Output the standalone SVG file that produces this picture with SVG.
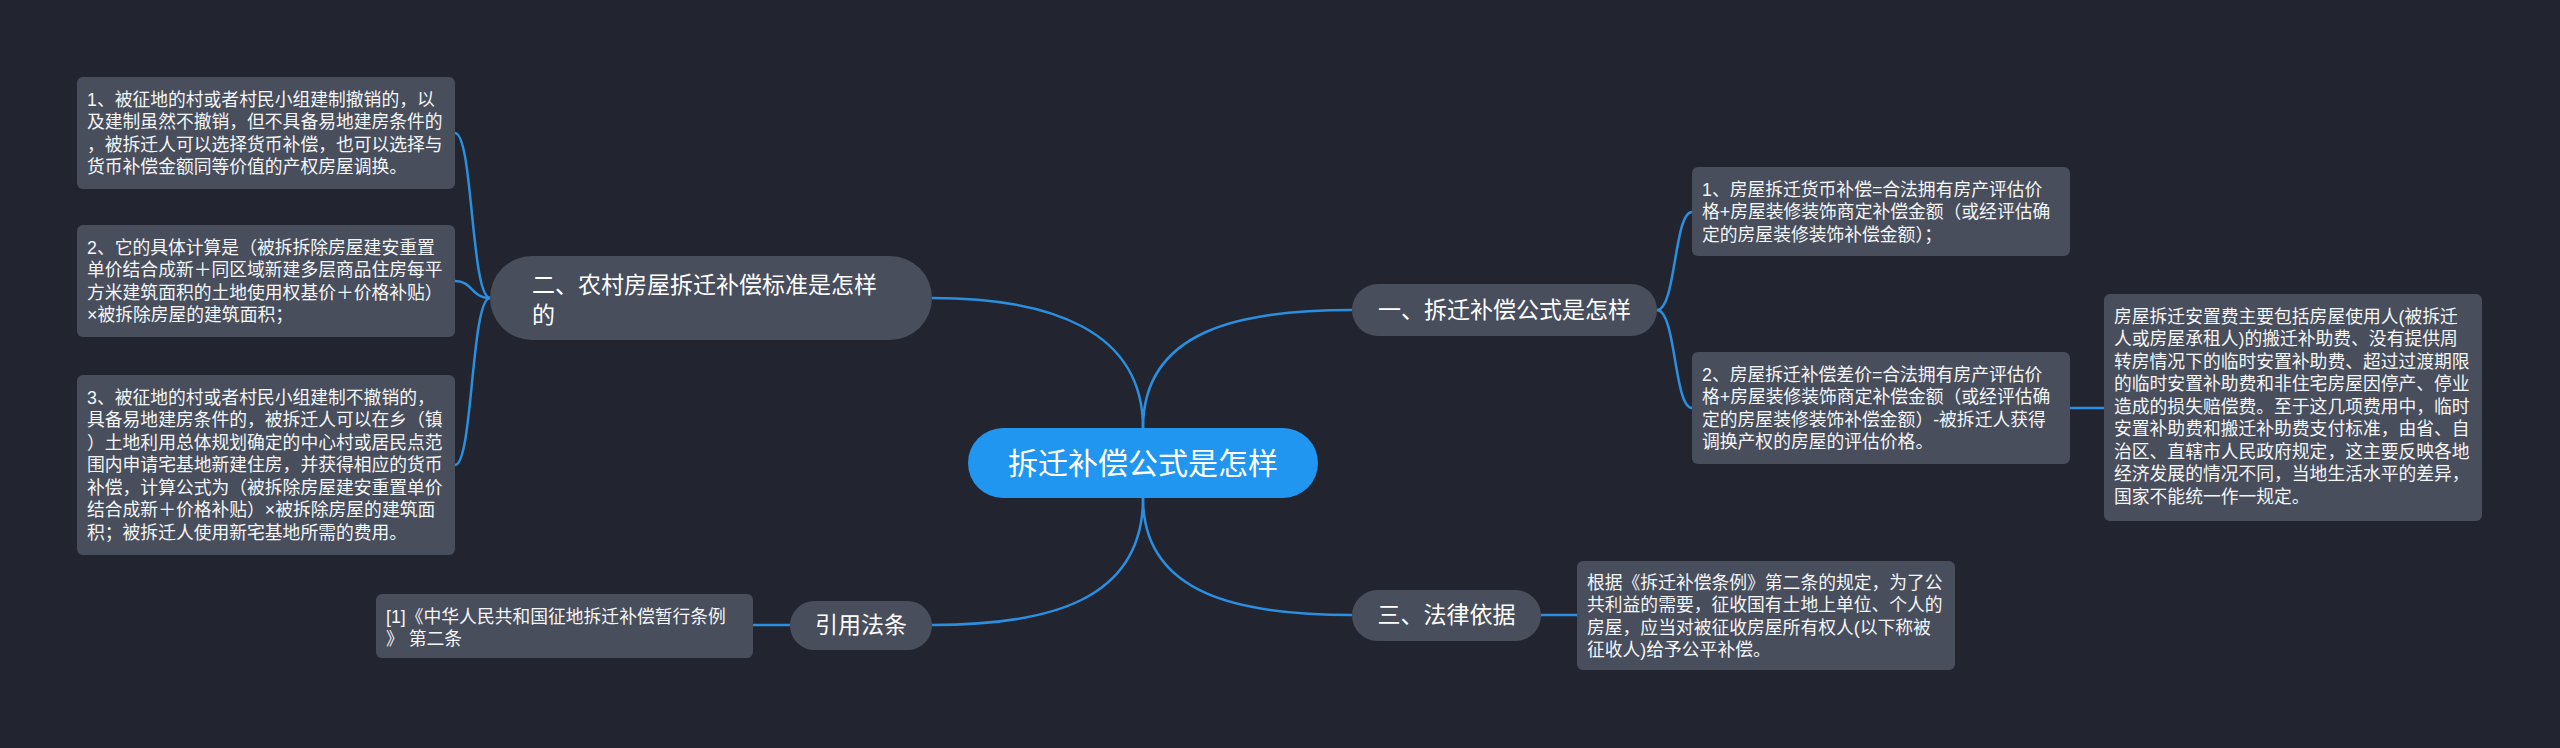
<svg xmlns="http://www.w3.org/2000/svg" width="2560" height="748" viewBox="0 0 2560 748">
<style>
.bg{fill:#22252f}
.leaf{fill:#484e5c}
.node{fill:#484e5c}
.center{fill:#2196f0}
.ln{fill:none;stroke:#2a8fe0;stroke-width:2.5}
.lt{font-family:"Liberation Sans","Noto Sans CJK SC",sans-serif;font-size:17.8px;fill:#f4f5f7}
.nt{font-family:"Liberation Sans","Noto Sans CJK SC",sans-serif;font-size:23px;fill:#ffffff}
.ct{font-family:"Liberation Sans","Noto Sans CJK SC",sans-serif;font-size:30px;fill:#ffffff}
</style>
<rect class="bg" x="0" y="0" width="2560" height="748"/>
<g id="connectors">
<path class="ln" d="M1143,428 C1143,330 1050,298 932,298"/>
<path class="ln" d="M1143,428 C1143,330 1240,310 1352,310"/>
<path class="ln" d="M1143,498 C1143,595 1240,615 1352,615"/>
<path class="ln" d="M1143,498 C1143,600 1050,625 932,625"/>
<path class="ln" d="M490,298 C471,298 473,133 455,133"/>
<path class="ln" d="M490,298 C471,298 473,281 455,281"/>
<path class="ln" d="M490,298 C471,298 473,465 455,465"/>
<path class="ln" d="M790,625 L753,625"/>
<path class="ln" d="M1657,310 C1676,310 1674,212 1692,212"/>
<path class="ln" d="M1657,310 C1676,310 1674,408 1692,408"/>
<path class="ln" d="M2070,408 L2104,408"/>
<path class="ln" d="M1541,615 L1577,615"/>
</g>
<g id="center">
<rect class="center" x="968" y="428" width="350" height="70" rx="35"/>
<text class="ct" x="1143" y="473.5" text-anchor="middle">拆迁补偿公式是怎样</text>
</g>
<g id="n2">
<rect class="node" x="490" y="256" width="442" height="84" rx="42"/>
<text class="nt" x="532" y="293">二、农村房屋拆迁补偿标准是怎样</text>
<text class="nt" x="532" y="323">的</text>
</g>
<g id="n1">
<rect class="node" x="1352" y="284" width="305" height="52" rx="26"/>
<text class="nt" x="1504.5" y="318" text-anchor="middle">一、拆迁补偿公式是怎样</text>
</g>
<g id="n3">
<rect class="node" x="1352" y="590" width="189" height="51" rx="25.5"/>
<text class="nt" x="1446.5" y="623" text-anchor="middle">三、法律依据</text>
</g>
<g id="n4">
<rect class="node" x="790" y="601" width="142" height="49" rx="24.5"/>
<text class="nt" x="861" y="633" text-anchor="middle">引用法条</text>
</g>
<g id="l1">
<rect class="leaf" x="77" y="77" width="378" height="112" rx="6"/>
<text class="lt" x="87" y="105.75">1、被征地的村或者村民小组建制撤销的，以</text>
<text class="lt" x="87" y="128.25">及建制虽然不撤销，但不具备易地建房条件的</text>
<text class="lt" x="87" y="150.75">，被拆迁人可以选择货币补偿，也可以选择与</text>
<text class="lt" x="87" y="173.25">货币补偿金额同等价值的产权房屋调换。</text>
</g>
<g id="l2">
<rect class="leaf" x="77" y="225" width="378" height="112" rx="6"/>
<text class="lt" x="87" y="253.75">2、它的具体计算是（被拆拆除房屋建安重置</text>
<text class="lt" x="87" y="276.25">单价结合成新＋同区域新建多层商品住房每平</text>
<text class="lt" x="87" y="298.75">方米建筑面积的土地使用权基价＋价格补贴）</text>
<text class="lt" x="87" y="321.25">×被拆除房屋的建筑面积；</text>
</g>
<g id="l3">
<rect class="leaf" x="77" y="375" width="378" height="180" rx="6"/>
<text class="lt" x="87" y="403.75">3、被征地的村或者村民小组建制不撤销的，</text>
<text class="lt" x="87" y="426.25">具备易地建房条件的，被拆迁人可以在乡（镇</text>
<text class="lt" x="87" y="448.75">）土地利用总体规划确定的中心村或居民点范</text>
<text class="lt" x="87" y="471.25">围内申请宅基地新建住房，并获得相应的货币</text>
<text class="lt" x="87" y="493.75">补偿，计算公式为（被拆除房屋建安重置单价</text>
<text class="lt" x="87" y="516.25">结合成新＋价格补贴）×被拆除房屋的建筑面</text>
<text class="lt" x="87" y="538.75">积；被拆迁人使用新宅基地所需的费用。</text>
</g>
<g id="l4">
<rect class="leaf" x="376" y="594" width="377" height="64" rx="6"/>
<text class="lt" x="386" y="622.5">[1]《中华人民共和国征地拆迁补偿暂行条例</text>
<text class="lt" x="386" y="645">》 第二条</text>
</g>
<g id="r1">
<rect class="leaf" x="1692" y="167" width="378" height="89" rx="6"/>
<text class="lt" x="1702" y="195.75">1、房屋拆迁货币补偿=合法拥有房产评估价</text>
<text class="lt" x="1702" y="218.25">格+房屋装修装饰商定补偿金额（或经评估确</text>
<text class="lt" x="1702" y="240.75">定的房屋装修装饰补偿金额）；</text>
</g>
<g id="r2">
<rect class="leaf" x="1692" y="352" width="378" height="112" rx="6"/>
<text class="lt" x="1702" y="380.75">2、房屋拆迁补偿差价=合法拥有房产评估价</text>
<text class="lt" x="1702" y="403.25">格+房屋装修装饰商定补偿金额（或经评估确</text>
<text class="lt" x="1702" y="425.75">定的房屋装修装饰补偿金额）-被拆迁人获得</text>
<text class="lt" x="1702" y="448.25">调换产权的房屋的评估价格。</text>
</g>
<g id="r3">
<rect class="leaf" x="2104" y="294" width="378" height="227" rx="6"/>
<text class="lt" x="2114" y="322.75">房屋拆迁安置费主要包括房屋使用人(被拆迁</text>
<text class="lt" x="2114" y="345.25">人或房屋承租人)的搬迁补助费、没有提供周</text>
<text class="lt" x="2114" y="367.75">转房情况下的临时安置补助费、超过过渡期限</text>
<text class="lt" x="2114" y="390.25">的临时安置补助费和非住宅房屋因停产、停业</text>
<text class="lt" x="2114" y="412.75">造成的损失赔偿费。至于这几项费用中，临时</text>
<text class="lt" x="2114" y="435.25">安置补助费和搬迁补助费支付标准，由省、自</text>
<text class="lt" x="2114" y="457.75">治区、直辖市人民政府规定，这主要反映各地</text>
<text class="lt" x="2114" y="480.25">经济发展的情况不同，当地生活水平的差异，</text>
<text class="lt" x="2114" y="502.75">国家不能统一作一规定。</text>
</g>
<g id="r4">
<rect class="leaf" x="1577" y="561" width="378" height="109" rx="6"/>
<text class="lt" x="1587" y="588.75">根据《拆迁补偿条例》第二条的规定，为了公</text>
<text class="lt" x="1587" y="611.25">共利益的需要，征收国有土地上单位、个人的</text>
<text class="lt" x="1587" y="633.75">房屋，应当对被征收房屋所有权人(以下称被</text>
<text class="lt" x="1587" y="656.25">征收人)给予公平补偿。</text>
</g>
</svg>
